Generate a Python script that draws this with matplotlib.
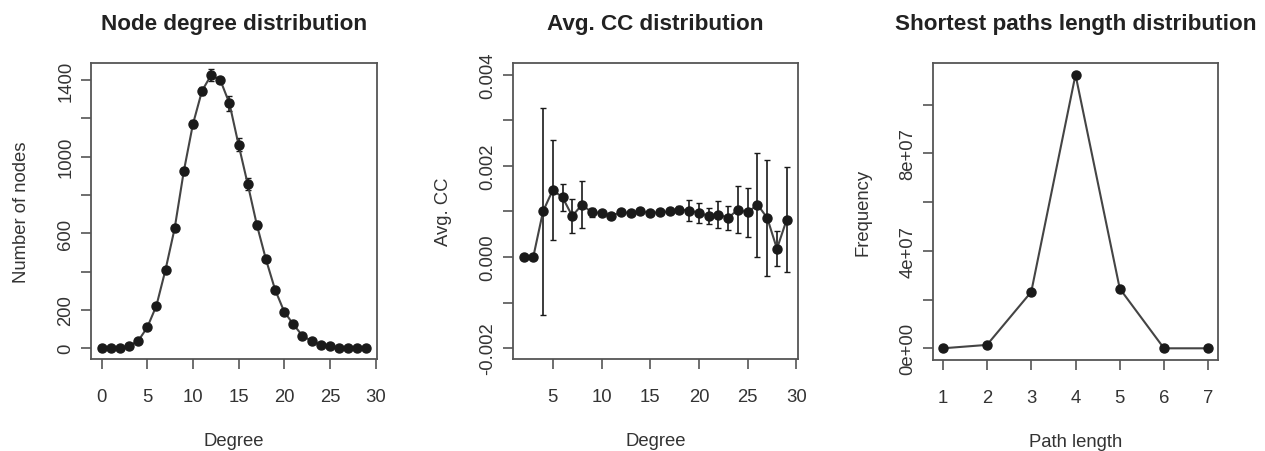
import matplotlib
matplotlib.use('Agg')
import matplotlib.pyplot as plt
from matplotlib.ticker import FixedLocator

plt.rcParams['font.family'] = ['Liberation Sans', 'DejaVu Sans']

# node degree distribution
deg1 = list(range(0, 30))
nodes = [0, 0, 0, 12, 37, 108, 221, 409, 625, 923, 1169, 1344, 1426, 1400, 1278,
         1062, 857, 644, 463, 305, 190, 124, 64, 37, 17, 9, 2, 0, 0, 0]
nodes_err = [0, 0, 0, 2, 4, 6, 8, 10, 12, 20, 22, 22, 30, 15, 38,
             35, 32, 22, 14, 10, 8, 6, 4, 3, 2, 1, 1, 0, 0, 0]

# avg clustering coefficient per degree
deg2 = list(range(2, 30))
avg_cc = [0.0, 0.0, 0.001, 0.00147, 0.00131, 0.0009, 0.00115, 0.00098, 0.00097, 0.00091,
          0.00098, 0.00097, 0.001, 0.00097, 0.00098, 0.001, 0.00104, 0.00102, 0.00097,
          0.0009, 0.00093, 0.00086, 0.00104, 0.00098, 0.00115, 0.00086, 0.00018, 0.00082]
cc_err = [0.0, 0.0, 0.00228, 0.00109, 0.0003, 0.00037, 0.00052, 0.0001, 0.00005, 0.00005,
          0.00004, 0.00004, 0.00005, 0.00004, 0.00004, 0.00006, 0.00007, 0.00024, 0.00022,
          0.00017, 0.00029, 0.00026, 0.00051, 0.00054, 0.00114, 0.00128, 0.00038, 0.00115]

# shortest path lengths
path_len = [1, 2, 3, 4, 5, 6, 7]
freq = [0.0, 1.4e6, 2.315e7, 1.123e8, 2.45e7, 0.0, 0.0]

W, H = 1265, 452
fig = plt.figure(figsize=(W / 100.0, H / 100.0), dpi=100)

def make_axes(left, right, top, bottom):
    return fig.add_axes([left / W, 1 - bottom / H, (right - left) / W, (bottom - top) / H])

axes = [make_axes(91, 377, 64, 360), make_axes(513, 798, 64, 360), make_axes(933, 1218, 64, 361)]

line_col = '#444444'
pt_col = '#1a1a1a'
box_col = '#555555'

def style(ax, title, xlabel, ylabel, yticks, ylabels):
    for s in ax.spines.values():
        s.set_color(box_col)
        s.set_linewidth(1.3)
    ax.set_title(title, fontsize=16.2, fontweight='bold', color='#222222', pad=24.5)
    ax.set_xlabel(xlabel, fontsize=13.3, color='#333333')
    ax.set_ylabel(ylabel, fontsize=13.3, color='#333333')
    ax.xaxis.set_label_coords(0.5, -0.245)
    ax.yaxis.set_label_coords(-0.215, 0.5)
    ax.yaxis.set_major_locator(FixedLocator(yticks))
    ax.set_yticklabels(ylabels)
    ax.tick_params(axis='both', direction='out', length=7.5, width=1.2, color=box_col,
                   labelsize=13.3, labelcolor='#333333')
    ax.tick_params(axis='x', pad=13.5)
    ax.tick_params(axis='y', pad=4.5)
    for t in ax.get_yticklabels():
        t.set_rotation(90)
        t.set_va('center')

# panel 1
ax = axes[0]
ax.errorbar(deg1, nodes, yerr=nodes_err, fmt='-o', color=line_col, mfc=pt_col, mec=pt_col,
            ms=6.5, lw=1.5, ecolor=pt_col, elinewidth=1.2, capsize=2.5)
ax.set_xlim(-1.16, 30.16)
ax.set_ylim(-57, 1489)
ax.set_xticks([0, 5, 10, 15, 20, 25, 30])
style(ax, 'Node degree distribution', 'Degree', 'Number of nodes',
      [0, 200, 400, 600, 800, 1000, 1200, 1400],
      ['0', '200', '', '600', '', '1000', '', '1400'])

# panel 2
ax = axes[1]
ax.errorbar(deg2, avg_cc, yerr=cc_err, fmt='-o', color=line_col, mfc=pt_col, mec=pt_col,
            ms=6.5, lw=1.5, ecolor=pt_col, elinewidth=1.2, capsize=2.5)
ax.set_xlim(0.92, 30.16)
ax.set_ylim(-0.00224, 0.00426)
ax.set_xticks([5, 10, 15, 20, 25, 30])
style(ax, 'Avg. CC distribution', 'Degree', 'Avg. CC',
      [-0.002, -0.001, 0.0, 0.001, 0.002, 0.003, 0.004],
      ['-0.002', '', '0.000', '', '0.002', '', '0.004'])

# panel 3
ax = axes[2]
ax.plot(path_len, freq, '-o', color=line_col, mfc=pt_col, mec=pt_col, ms=6.5, lw=1.5)
ax.set_xlim(0.78, 7.22)
ax.set_ylim(-4.8e6, 1.171e8)
ax.set_xticks(path_len)
style(ax, 'Shortest paths length distribution', 'Path length', 'Frequency',
      [0, 2e7, 4e7, 6e7, 8e7, 1e8],
      ['0e+00', '', '4e+07', '', '8e+07', ''])

fig.savefig('out.png', dpi=100, facecolor='white')
